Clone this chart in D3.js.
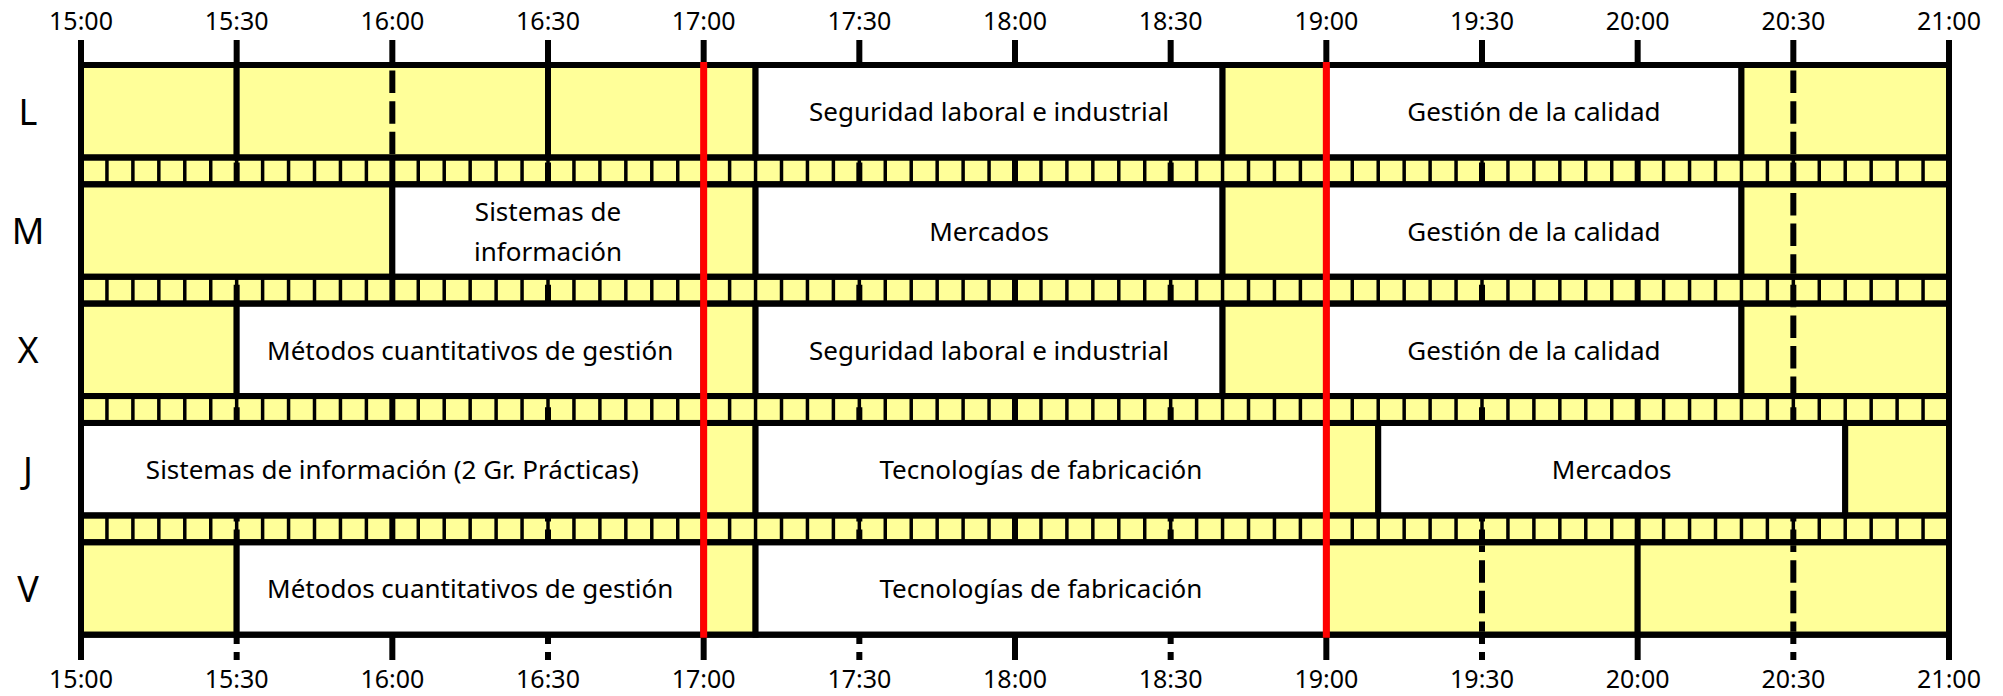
<!DOCTYPE html>
<html lang="es">
<head>
<meta charset="UTF-8">
<title>Horario</title>
<script src="https://d3js.org/d3.v7.min.js"></script>
<style>
  * { margin: 0; padding: 0; }
  body { background: #fff; width: 2003px; height: 696px; overflow: hidden; }
  svg { display: block; font-family: 'Noto Sans', sans-serif; }
</style>
</head>
<body>
<svg id="chart" width="2003" height="696"></svg>
<script>
const days = ['L', 'M', 'X', 'J', 'V'];
const timeTicks = ['15:00', '15:30', '16:00', '16:30', '17:00', '17:30', '18:00',
                   '18:30', '19:00', '19:30', '20:00', '20:30', '21:00'];

// [inicio, fin, asignatura] ('' = hueco libre)
const slotsL = [['15:00', '15:30', ''], ['15:30', '16:30', ''], ['16:30', '17:10', ''],
  ['17:10', '18:40', 'Seguridad laboral e industrial'], ['18:40', '19:00', ''],
  ['19:00', '20:20', 'Gestión de la calidad'], ['20:20', '21:00', '']];
const slotsM = [['15:00', '16:00', ''], ['16:00', '17:00', 'Sistemas de|información'],
  ['17:00', '17:10', ''], ['17:10', '18:40', 'Mercados'], ['18:40', '19:00', ''],
  ['19:00', '20:20', 'Gestión de la calidad'], ['20:20', '21:00', '']];
const slotsX = [['15:00', '15:30', ''], ['15:30', '17:00', 'Métodos cuantitativos de gestión'],
  ['17:00', '17:10', ''], ['17:10', '18:40', 'Seguridad laboral e industrial'], ['18:40', '19:00', ''],
  ['19:00', '20:20', 'Gestión de la calidad'], ['20:20', '21:00', '']];
const slotsJ = [['15:00', '17:00', 'Sistemas de información (2 Gr. Prácticas)'], ['17:00', '17:10', ''],
  ['17:10', '19:00', 'Tecnologías de fabricación'], ['19:00', '19:10', ''],
  ['19:10', '20:40', 'Mercados'], ['20:40', '21:00', '']];
const slotsV = [['15:00', '15:30', ''], ['15:30', '17:00', 'Métodos cuantitativos de gestión'],
  ['17:00', '17:10', ''], ['17:10', '19:00', 'Tecnologías de fabricación'],
  ['19:00', '20:00', ''], ['20:00', '21:00', '']];
const slotsByDay = [slotsL, slotsM, slotsX, slotsJ, slotsV];

// marcas discontinuas visibles dentro de huecos libres
const dashedMarks = [['L', '16:00'], ['L', '20:30'], ['M', '20:30'], ['X', '20:30'], ['V', '19:30'], ['V', '20:30']];
// líneas rojas
const breakTimes = ['17:00', '19:00'];
const stripStep = 5; // minutos

const YELLOW = '#ffff99';
const DASH = '22.5,8.1';
const TOP_TICK = 40, BOTTOM_TICK = 660;

const toMin = s => { const [h, m] = s.split(':').map(Number); return (h - 15) * 60 + m; };

const x = d3.scaleLinear().domain([0, 360]).range([81, 1949]);
const y = d3.scaleBand().domain(days).range([65, 634.7]).paddingInner(0.225).paddingOuter(0);

const svg = d3.select('#chart');
const gridTop = y('L'), gridBottom = y('V') + y.bandwidth();

// fondo amarillo
svg.append('rect')
  .attr('x', x(0)).attr('y', gridTop)
  .attr('width', x(360) - x(0)).attr('height', gridBottom - gridTop)
  .attr('fill', YELLOW);

// tiras de 5 minutos entre días
const strips = days.slice(0, -1).map(d => [y(d) + y.bandwidth(), y(days[days.indexOf(d) + 1])]);
const stripG = svg.append('g');
strips.forEach(([y0, y1]) => {
  stripG.selectAll(null)
    .data(d3.range(stripStep, 360, stripStep))
    .join('line')
    .attr('x1', d => x(d)).attr('x2', d => x(d))
    .attr('y1', y0).attr('y2', y1)
    .attr('stroke', '#000').attr('stroke-width', 3.5);
});

// rejilla: horas continuas, medias horas discontinuas
svg.append('g').selectAll('line')
  .data(timeTicks)
  .join('line')
  .attr('x1', d => x(toMin(d))).attr('x2', d => x(toMin(d)))
  .attr('y1', TOP_TICK).attr('y2', BOTTOM_TICK)
  .attr('stroke', '#000').attr('stroke-width', 6)
  .attr('stroke-dasharray', d => d.endsWith(':30') ? DASH : null);

// bloques
days.forEach((day, i) => {
  const g = svg.append('g');
  g.selectAll('rect')
    .data(slotsByDay[i])
    .join('rect')
    .attr('x', d => x(toMin(d[0]))).attr('y', y(day))
    .attr('width', d => x(toMin(d[1])) - x(toMin(d[0])))
    .attr('height', y.bandwidth())
    .attr('fill', d => d[2] ? '#fff' : YELLOW)
    .attr('stroke', '#000').attr('stroke-width', 6);
});

const defs = svg.append('defs');
days.forEach(day => {
  defs.append('clipPath').attr('id', 'clip-' + day)
    .append('rect')
    .attr('x', 0).attr('y', y(day) + 3)
    .attr('width', 2003).attr('height', y.bandwidth() - 6);
});

// marcas discontinuas en huecos (misma fase que la rejilla)
svg.append('g').selectAll('line')
  .data(dashedMarks)
  .join('line')
  .attr('x1', d => x(toMin(d[1]))).attr('x2', d => x(toMin(d[1])))
  .attr('y1', TOP_TICK).attr('y2', BOTTOM_TICK)
  .attr('stroke', '#000').attr('stroke-width', 6)
  .attr('stroke-dasharray', DASH)
  .attr('clip-path', d => 'url(#clip-' + d[0] + ')');

// bordes horizontales de las filas
svg.append('g').selectAll('line')
  .data(days.flatMap(d => [y(d), y(d) + y.bandwidth()]))
  .join('line')
  .attr('x1', x(0)).attr('x2', x(360))
  .attr('y1', d => d).attr('y2', d => d)
  .attr('stroke', '#000').attr('stroke-width', 6);

// bordes laterales
svg.append('g').selectAll('line')
  .data([0, 360])
  .join('line')
  .attr('x1', d => x(d)).attr('x2', d => x(d))
  .attr('y1', TOP_TICK).attr('y2', BOTTOM_TICK)
  .attr('stroke', '#000').attr('stroke-width', 6);

// líneas rojas
svg.append('g').selectAll('line')
  .data(breakTimes)
  .join('line')
  .attr('x1', d => x(toMin(d))).attr('x2', d => x(toMin(d)))
  .attr('y1', gridTop - 3).attr('y2', gridBottom + 3)
  .attr('stroke', '#ff0000').attr('stroke-width', 7);

// etiquetas de hora
[30, 688].forEach(yy => {
  svg.append('g').selectAll('text')
    .data(timeTicks)
    .join('text')
    .attr('x', d => x(toMin(d))).attr('y', yy)
    .attr('text-anchor', 'middle')
    .attr('font-size', 25).attr('fill', '#000')
    .text(d => d);
});

// etiquetas de día
svg.append('g').selectAll('text')
  .data(days)
  .join('text')
  .attr('x', 28).attr('y', d => y(d) + y.bandwidth() / 2)
  .attr('text-anchor', 'middle').attr('dominant-baseline', 'central')
  .attr('font-size', 36).attr('fill', '#000')
  .text(d => d);

// nombres de asignaturas
days.forEach((day, i) => {
  slotsByDay[i].filter(d => d[2]).forEach(d => {
    const lines = d[2].split('|');
    const cx = (x(toMin(d[0])) + x(toMin(d[1]))) / 2;
    const cy = y(day) + y.bandwidth() / 2;
    const t = svg.append('text')
      .attr('text-anchor', 'middle').attr('font-size', 26).attr('fill', '#000');
    lines.forEach((ln, k) => {
      t.append('tspan')
        .attr('x', cx)
        .attr('y', cy + (k - (lines.length - 1) / 2) * 40)
        .attr('dominant-baseline', 'central')
        .text(ln);
    });
  });
});
</script>
</body>
</html>
